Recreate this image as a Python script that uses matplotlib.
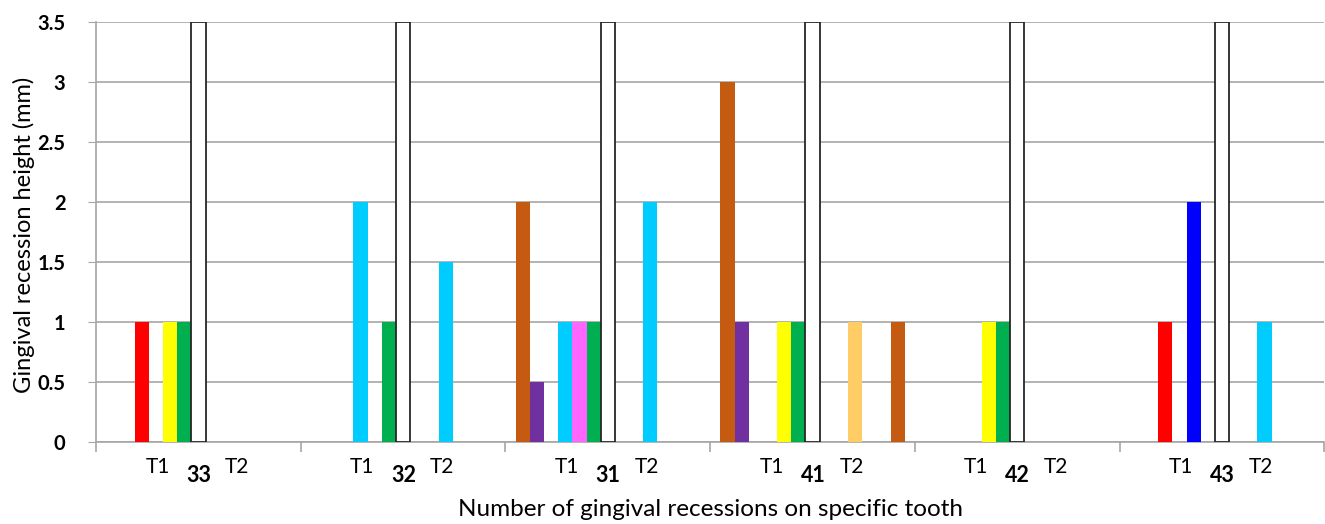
import matplotlib
matplotlib.use("Agg")
import matplotlib.pyplot as plt
import numpy as np

# teeth (categories); T1 bars left of the white separator, T2 bars right of it
teeth = ['33', '32', '31', '41', '42', '43']

t1_a = [0, 0, 2, 3, 0, 0]          # brown
t1_b = [0, 0, 0.5, 1, 0, 0]        # purple
t1_c = [1, 0, 0, 0, 0, 1]          # red
t1_d = [0, 2, 1, 0, 0, 0]          # light blue
t1_e = [1, 0, 1, 1, 1, 2]          # yellow / pink / blue
t1_f = [1, 1, 1, 1, 1, 0]          # green
separator = [3.5, 3.5, 3.5, 3.5, 3.5, 3.5]
t2_a = [0, 1.5, 2, 1, 0, 1]        # light blue / light orange
t2_b = [0, 0, 0, 1, 0, 0]          # brown

BROWN = '#C55A11'
PURPLE = '#7030A0'
RED = '#FF0000'
CYAN = '#00CCFF'
YELLOW = '#FFFF00'
PINK = '#FF66FF'
BLUE = '#0000FF'
GREEN = '#00B050'
LORANGE = '#FFCC66'

x = np.arange(len(teeth))
w = 0.0693   # one slot, 13 slots per tooth

fig = plt.figure(figsize=(13.25, 5.24), dpi=100)
ax = fig.add_axes([0.0725, 0.1565, 0.927, 0.8015])

def draw(slot, vals, colors, **kw):
    ax.bar(x + (slot - 6) * w, vals, width=w, color=colors, zorder=3, **kw)

draw(0, t1_a, BROWN)
draw(1, t1_b, PURPLE)
draw(2, t1_c, RED)
draw(3, t1_d, CYAN)
draw(4, t1_e, [YELLOW, YELLOW, PINK, YELLOW, YELLOW, BLUE])
draw(5, t1_f, GREEN)
draw(6, separator, 'white', edgecolor='#262626', linewidth=1.3)
draw(9, t2_a, [CYAN, CYAN, CYAN, LORANGE, CYAN, CYAN])
draw(12, t2_b, BROWN)

ax.set_xlim(-0.5, len(teeth) - 0.5)
ax.set_ylim(0, 3.5)
ax.set_yticks(np.arange(0, 3.51, 0.5))
ax.set_yticklabels(['0', '0.5', '1', '1.5', '2', '2.5', '3', '3.5'],
                   fontweight='bold', fontsize=14.5, family='Lato')
ax.yaxis.grid(True, color='#A6A6A6', linewidth=1.2, zorder=0)
ax.tick_params(axis='y', length=6, color='#A6A6A6', pad=16)

ax.set_xticks(np.arange(-0.5, len(teeth), 1.0))
ax.set_xticklabels([])
ax.tick_params(axis='x', length=7, color='#A6A6A6', width=1.2)

for s in ['top', 'right']:
    ax.spines[s].set_visible(False)
for s in ['left', 'bottom']:
    ax.spines[s].set_color('#A6A6A6')
    ax.spines[s].set_linewidth(1.2)

tr = ax.get_xaxis_transform()
for i, t in enumerate(teeth):
    ax.text(i - 0.2, -0.06, 'T1', transform=tr, ha='center', va='center',
            fontsize=15, family='Lato')
    ax.text(i + 0.19, -0.06, 'T2', transform=tr, ha='center', va='center',
            fontsize=15, family='Lato')
    ax.text(i + 0.002, -0.08, t, transform=tr, ha='center', va='center',
            fontsize=15.5, fontweight='bold', family='Lato')

fig.text(0.536, 0.027, 'Number of gingival recessions on specific tooth',
         ha='center', va='center', fontsize=17.5, family='Lato')
fig.text(0.018, 0.552, 'Gingival recession height (mm)', rotation=90,
         ha='center', va='center', fontsize=17, family='Lato')

fig.savefig('out.png', dpi=100)
